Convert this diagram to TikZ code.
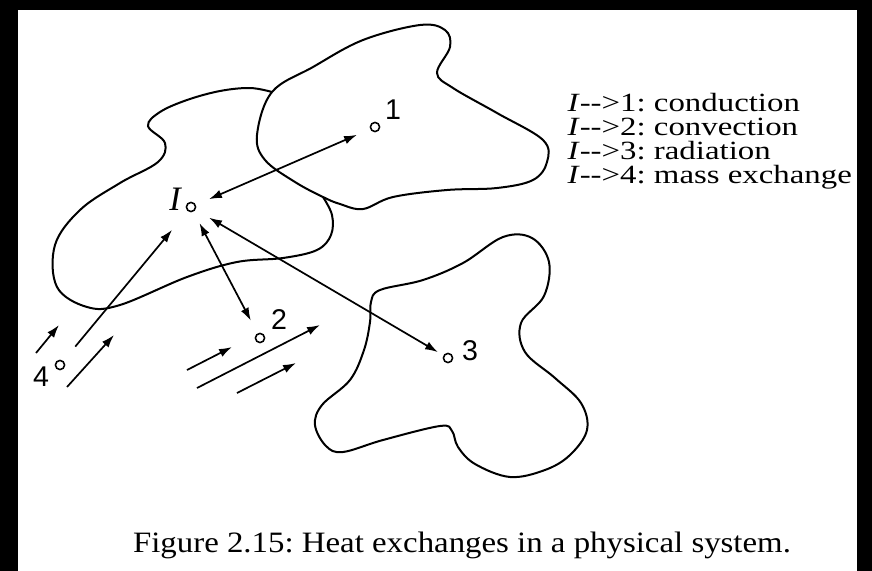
\documentclass[tikz,border=0pt]{standalone}
\usepackage{fontspec}
\setmainfont{Liberation Serif}
\newfontfamily\digitfont{Liberation Sans}
\usetikzlibrary{arrows.meta}
\newcommand{\squash}[2][0.8]{\scalebox{1}[#1]{#2}}
\newcommand{\keyline}[2]{\hbox{\textit{I}-{}->#1: #2}}
\tikzset{
  port/.style={circle, draw, line width=0.55pt, minimum size=3.2pt, inner sep=0pt},
  portlbl/.style={font=\digitfont\fontsize{10}{12}\selectfont, inner sep=0pt},
  region/.style={line width=0.7pt},
  xchg/.style={line width=0.6pt, {Latex[length=4.5pt,width=3pt]}-{Latex[length=4.5pt,width=3pt]}},
  flow/.style={line width=0.6pt, -{Latex[length=4.5pt,width=3pt]}},
  legend/.style={font=\fontsize{11.5}{11}\selectfont, anchor=base west, inner sep=0pt},
}

\begin{document}
\frenchspacing
\begin{tikzpicture}[x=0.35pt, y=-0.35pt]

% ========== FRAME ==========
\fill[black] (0,0) rectangle (872,571);
\fill[white] (18,10) rectangle (857,571);
\useasboundingbox (0,0) rectangle (872,571);

% ========== REGIONS ==========
% region of 1
\draw[region] plot[smooth cycle, tension=0.6] coordinates {
  (272,92) (313,67) (363,40) (420,25) (445,30) (450,47) (437,73) (453,88)
  (497,113) (543,140) (547,162) (533,180) (497,188) (447,190) (393,197)
  (363,209) (340,204) (323,197) (295,182) (265,160) (257,135)};
% region of I (open, joins region of 1)
\draw[region] plot[smooth, tension=0.6] coordinates {
  (272,92) (250,88) (220,91) (187,100) (160,112) (148,126) (165,143)
  (158,162) (120,183) (80,210) (55,245) (57,287) (87,307) (120,305)
  (187,277) (237,262) (283,258) (317,250) (331,235) (332,215) (323,197)};
% region of 3
\draw[region] plot[smooth cycle, tension=0.6] coordinates {
  (380,290) (423,280) (463,263) (503,237) (532,238) (549,262) (544,296)
  (521,323) (525,352) (555,378) (581,403) (587,430) (570,455) (545,470)
  (510,477) (475,464) (458,447) (452,431) (440,426) (383,440) (343,452)
  (326,446) (315,425) (322,405) (350,380) (364,350) (370,322) (371,302)};

% ========== PORTS ==========
\node[port] (nI) at (191,207) {};
\node[port] (n1) at (375,127) {};
\node[port] (n2) at (260,338) {};
\node[port] (n3) at (448,358) {};
\node[port] (n4) at (60,365) {};

\node[font=\fontsize{12}{14}\selectfont\itshape, inner sep=0pt] (lI) at (175,199) {I};
\node[portlbl] (l1) at (393,110) {1};
\node[portlbl] (l2) at (279,320) {2};
\node[portlbl] (l3) at (470,351) {3};
\node[portlbl] (l4) at (41,377) {4};

% ========== EXCHANGES ==========
\draw[xchg, shorten <=5pt, shorten >=5pt] (nI) -- (n1);
\draw[xchg, shorten <=4.5pt, shorten >=5pt] (nI) -- (n2);
\draw[xchg, shorten <=5.5pt, shorten >=2.2pt] (nI) -- (n3);
\draw[flow, shorten <=6.5pt, shorten >=8.5pt] (n4) -- (nI);

% mass flow beside 4
\coordinate (m1a) at (36,353);  \coordinate (m1b) at (59,325);
\coordinate (m2a) at (67,387);  \coordinate (m2b) at (114,335);
\draw[flow] (m1a) -- (m1b);
\draw[flow] (m2a) -- (m2b);

% stream past 2
\coordinate (s1a) at (187,370); \coordinate (s1b) at (232,347);
\coordinate (s2a) at (197,388); \coordinate (s2b) at (320,325);
\coordinate (s3a) at (237,393); \coordinate (s3b) at (296,363);
\foreach \p in {s1,s2,s3}
  \draw[flow] (\p a) -- (\p b);

% ========== LEGEND ==========
\node[legend] (key) at (567,183) {\squash{\vbox{%
  \baselineskip=10.5pt \lineskiplimit=-\maxdimen
  \keyline{1}{conduction}
  \keyline{2}{convection}
  \keyline{3}{radiation}
  \keyline{4}{mass exchange}}}};

\node[font=\fontsize{11.5}{14}\selectfont, inner sep=0pt] (cap) at (462,545)
  {\squash[0.9]{Figure 2.15: Heat exchanges in a physical system.}};

\end{tikzpicture}
\end{document}
